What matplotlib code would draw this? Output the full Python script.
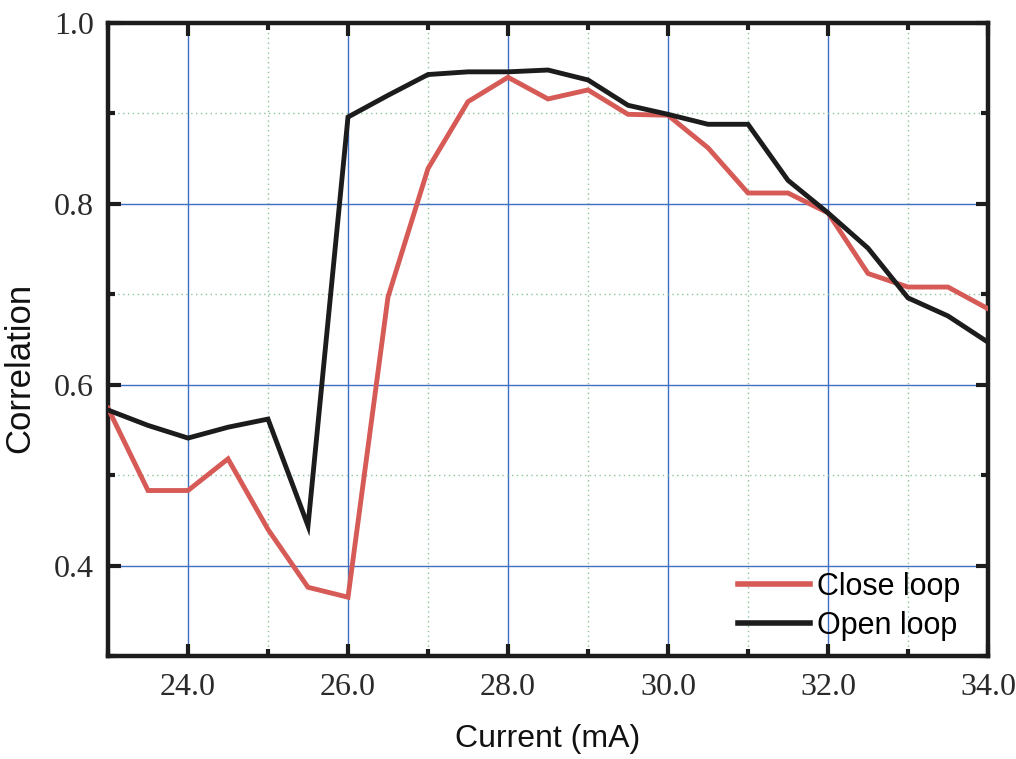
import matplotlib
matplotlib.use("Agg")
import matplotlib.pyplot as plt
from matplotlib.ticker import MultipleLocator, FormatStrFormatter

# Drive current sweep (mA)
current = [23.0, 23.5, 24.0, 24.5, 25.0, 25.5, 26.0, 26.5, 27.0, 27.5, 28.0, 28.5,
           29.0, 29.5, 30.0, 30.5, 31.0, 31.5, 32.0, 32.5, 33.0, 33.5, 34.0]

close_loop = [0.574, 0.483, 0.483, 0.518, 0.440, 0.376, 0.365, 0.697, 0.839, 0.913,
              0.940, 0.916, 0.926, 0.899, 0.898, 0.862, 0.812, 0.812, 0.790, 0.723,
              0.708, 0.708, 0.684]

open_loop = [0.572, 0.555, 0.541, 0.553, 0.562, 0.444, 0.896, 0.920, 0.943, 0.946,
             0.946, 0.948, 0.937, 0.909, 0.899, 0.888, 0.888, 0.826, 0.790, 0.751,
             0.696, 0.676, 0.647]

series_labels = ["Close loop", "Open loop"]

fig = plt.figure(figsize=(10.16, 7.59), dpi=100)
ax = fig.add_axes([108 / 1016, 1 - 656 / 759, 880 / 1016, 633 / 759])

ax.plot(current, close_loop, color="#d65a56", lw=3.5, label=series_labels[0],
        solid_joinstyle="miter", zorder=3)
ax.plot(current, open_loop, color="#1c1c1c", lw=3.5, label=series_labels[1],
        solid_joinstyle="miter", zorder=4)

ax.set_xlim(23, 34)
ax.set_ylim(0.3, 1.0)
ax.xaxis.set_minor_locator(MultipleLocator(1))
ax.yaxis.set_minor_locator(MultipleLocator(0.1))
ax.set_xticks([24, 26, 28, 30, 32, 34])
ax.set_yticks([0.4, 0.6, 0.8, 1.0])
ax.xaxis.set_major_formatter(FormatStrFormatter("%.1f"))
ax.yaxis.set_major_formatter(FormatStrFormatter("%.1f"))

ax.grid(which="major", color="#3f6fc0", lw=1.0, ls="-", zorder=1)
ax.grid(which="minor", color="#8cc49c", lw=1.0, ls=(0, (1, 2.5)), zorder=1)
ax.set_axisbelow(True)

for side in ax.spines.values():
    side.set_linewidth(3.2)
    side.set_color("#1c1c1c")

ax.tick_params(which="both", direction="in", top=True, right=True,
               color="#1c1c1c")
ax.tick_params(which="major", length=9, width=3)
ax.tick_params(which="minor", length=5, width=3)
ax.tick_params(axis="x", which="major", pad=12)
ax.tick_params(axis="y", which="major", pad=10)
for lbl in ax.get_xticklabels() + ax.get_yticklabels():
    lbl.set_fontfamily("Liberation Serif")
    lbl.set_fontsize(23)
    lbl.set_color("#2a2a2a")

ax.set_xlabel("Current (mA)", fontfamily="Liberation Sans", fontsize=23,
              color="#111111", labelpad=16)
ax.set_ylabel("Correlation", fontfamily="Liberation Sans", fontsize=25,
              color="#111111")
ax.yaxis.set_label_coords(-0.081, (656 - 368) / 633)

leg = ax.legend(loc="lower right", frameon=False, handlelength=2.35,
                handletextpad=0.25, labelspacing=0.3,
                prop={"family": "Liberation Sans", "size": 22},
                bbox_to_anchor=(1.0, -0.02))
for h in leg.get_lines():
    h.set_linewidth(4)

fig.savefig("out.png", dpi=100)
